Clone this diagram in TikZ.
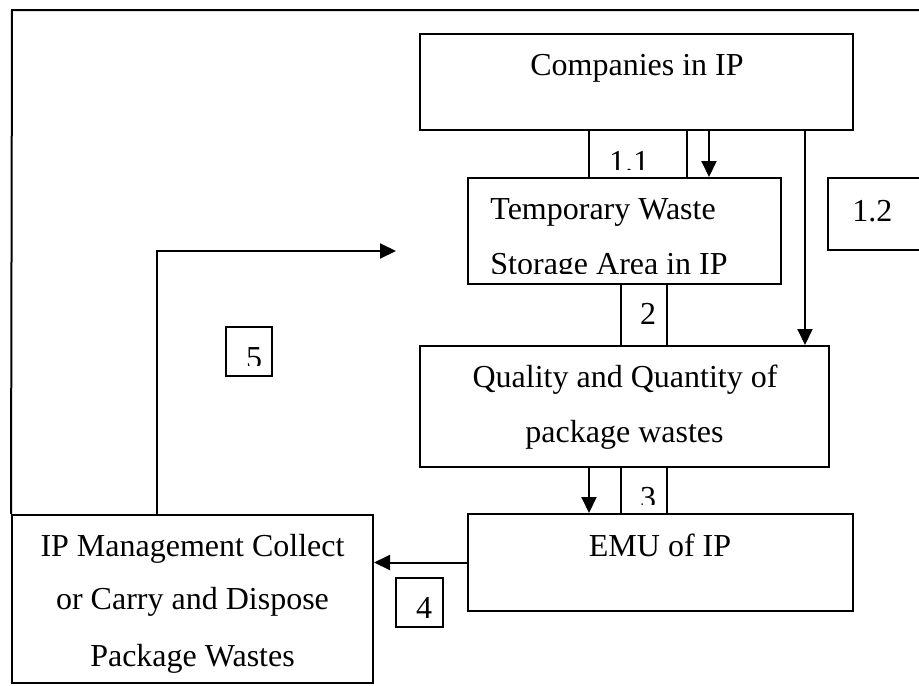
\documentclass[tikz,border=0pt]{standalone}
\usepackage{fontspec}
\setmainfont{Liberation Serif}
\usetikzlibrary{arrows.meta}
\begin{document}
\begin{tikzpicture}[x=0.5pt,y=-0.5pt,
  box/.style={draw, line width=1pt, inner sep=0pt, fill=none},
  txt/.style={font=\fontsize{16}{19}\selectfont, inner sep=0pt, anchor=base},
  ltxt/.style={txt, anchor=base west},
  arr/.style={line width=1pt, -{Triangle[length=8pt,width=7.5pt]}},
  wire/.style={line width=1pt}]
\useasboundingbox (0,0) rectangle (919,685);

% main process boxes
\node[box, minimum width=216.5pt, minimum height=48pt] (comp) at (636.5,82) {};
\node[box, minimum width=156.5pt, minimum height=53pt] (temp) at (624.5,231) {};
\node[box, minimum width=204.5pt, minimum height=60.5pt] (qq) at (624.5,406.5) {};
\node[box, minimum width=192.5pt, minimum height=48.5pt] (emu) at (660.5,562.5) {};
\node[box, minimum width=180.5pt, minimum height=84pt] (ipm) at (192.5,599) {};

% numbered label boxes
\node[box, minimum width=49pt, minimum height=24pt] (l11) at (638,154) {};
\node[box, minimum width=56pt, minimum height=36pt] (l12) at (884,214) {};
\node[box, minimum width=23pt, minimum height=31pt] (l2) at (644,315) {};
\node[box, minimum width=23pt, minimum height=23.5pt] (l3) at (644,490.5) {};
\node[box, minimum width=23.5pt, minimum height=24.5pt] (l4) at (419.5,602.5) {};
\node[box, minimum width=23pt, minimum height=24.5pt] (l5) at (249,351.5) {};

% box texts
\node[txt] (tcomp) at (637,75) {Companies in IP};
\node[ltxt] (ttemp1) at (490,219) {Temporary Waste};
\begin{scope}
  \clip (468,230) rectangle (781,273);
  \node[ltxt] (ttemp2) at (490,274.5) {Storage Area in IP};
\end{scope}
\node[txt] (tqq1) at (625,387.5) {Quality and Quantity of};
\node[txt] (tqq2) at (624.5,442) {package wastes};
\node[txt] (temu) at (660,556.5) {EMU of IP};
\node[txt] (tipm1) at (192.5,556.5) {IP Management Collect};
\node[txt] (tipm2) at (192.5,609.5) {or Carry and Dispose};
\node[txt] (tipm3) at (192.5,666.5) {Package Wastes};

% label texts
\begin{scope}
  \clip (589,130) rectangle (687,169);
  \node[txt] (t11) at (629,172) {1.1};
\end{scope}
\node[ltxt] (t12) at (852,221) {1.2};
\node[txt] (t2) at (648,324.5) {2};
\begin{scope}
  \clip (621,467) rectangle (667,504);
  \node[txt] (t3) at (648,508) {3};
\end{scope}
\node[txt] (t4) at (424,618) {4};
\begin{scope}
  \clip (226,327) rectangle (272,365);
  \node[txt] (t5) at (254,368.5) {5};
\end{scope}

% outer frame
\coordinate (ftl) at (12,10);
\coordinate (ftr) at (925,10);
\draw[wire] (ipm.north west) -- (ftl) -- (ftr);

% connectors
\coordinate (a11) at (709,130);
\draw[arr] (a11) -- (a11 |- temp.north);
\coordinate (a12) at (805,130);
\draw[arr] (a12) -- (a12 |- qq.north);
\coordinate (a3) at (589,467);
\draw[arr] (a3) -- (a3 |- emu.north);
\draw[arr] (emu.west) -- (emu.west -| ipm.east);
\coordinate (a5) at (396,251);
\draw[arr] ([xshift=-17.75pt]ipm.north) |- (a5);
\end{tikzpicture}
\end{document}
